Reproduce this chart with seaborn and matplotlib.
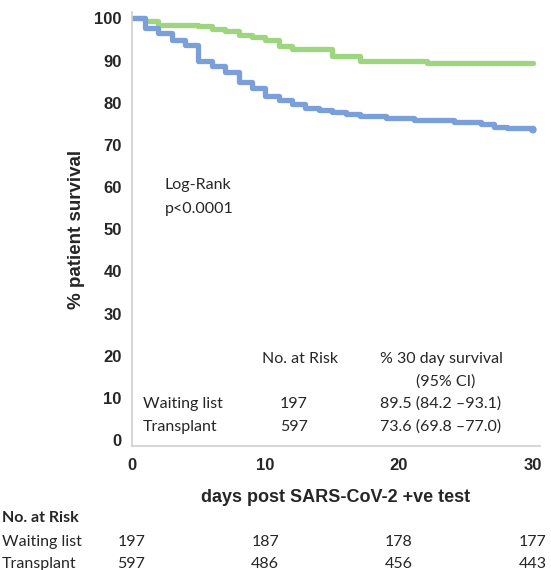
import numpy as np
import pandas as pd
import matplotlib
matplotlib.use("Agg")
import matplotlib.pyplot as plt
import seaborn as sns

# ---- data ----
groups = ["Waiting list", "Transplant"]
days_wl = [0, 1.0, 2.0, 5.0, 6.0, 7.0, 8.0, 9.0, 10.0, 11.0, 12.0, 15.0, 17.1, 22.1, 30.0]
surv_wl = [100, 99.4, 98.5, 98.1, 97.5, 96.9, 96.1, 95.5, 94.9, 93.5, 92.7, 91.1, 90.0, 89.5, 89.5]
days_tx = [0, 1.0, 2.0, 3.0, 4.0, 5.0, 6.0, 7.0, 8.0, 9.0, 10.0, 11.0, 12.0, 13.0, 14.0,
           15.0, 16.0, 17.1, 19.0, 21.1, 24.1, 26.1, 27.1, 28.1, 30.0]
surv_tx = [100, 97.7, 96.5, 94.9, 93.6, 89.8, 88.8, 87.2, 85.0, 83.5, 81.5, 80.7, 79.7, 78.7, 78.3,
           77.7, 77.4, 76.9, 76.3, 75.9, 75.4, 75.0, 74.2, 74.0, 73.6]
x_ticks = [0, 10, 20, 30]
y_ticks = [0, 10, 20, 30, 40, 50, 60, 70, 80, 90, 100]
risk_wl = [197, 187, 178, 177]
risk_tx = [597, 486, 456, 443]
table_n = ["197", "597"]
table_surv = ["89.5 (84.2 \u201393.1)", "73.6 (69.8 \u201377.0)"]
colors = {"Waiting list": "#9dd67e", "Transplant": "#7b9fd8"}

df = pd.concat([
    pd.DataFrame({"day": days_wl, "surv": surv_wl, "group": "Waiting list"}),
    pd.DataFrame({"day": days_tx, "surv": surv_tx, "group": "Transplant"}),
], ignore_index=True)

sns.set_style("white")
body = ["Lato", "DejaVu Sans"]
head = ["Liberation Sans", "DejaVu Sans"]

W, H = 551, 570
fig = plt.figure(figsize=(W / 100, H / 100), dpi=100)
ax = fig.add_axes([131.5 / W, (H - 446) / H, 408 / W, 434 / H])

sns.lineplot(data=df, x="day", y="surv", hue="group", palette=colors,
             drawstyle="steps-post", estimator=None, linewidth=3.8,
             legend=False, ax=ax)
# end marker on the transplant curve
sns.scatterplot(x=[days_tx[-1]], y=[surv_tx[-1]], color=colors["Transplant"],
                s=30, edgecolor="none", ax=ax, zorder=5)

ax.set_xlim(0, 30.5)
ax.set_ylim(-1.4, 101.5)
ax.set_xticks(x_ticks)
ax.set_yticks(y_ticks)
ax.set_xticklabels([str(t) for t in x_ticks], fontfamily=head, fontweight="bold", fontsize=12)
ax.set_yticklabels([str(t) for t in y_ticks], fontfamily=head, fontweight="bold", fontsize=12)
ax.tick_params(axis="both", length=3, width=1, color="#c8c8c8", direction="out")
ax.tick_params(axis="x", pad=6)
ax.tick_params(axis="y", pad=4)
for s in ["top", "right"]:
    ax.spines[s].set_visible(False)
for s in ["left", "bottom"]:
    ax.spines[s].set_color("#cfcfcf")
    ax.spines[s].set_linewidth(1.2)
ax.grid(False)
ax.set_xlabel("days post SARS-CoV-2 +ve test", fontfamily=head, fontweight="bold",
              fontsize=13, labelpad=11)
ax.set_ylabel("% patient survival", fontfamily=head, fontweight="bold", fontsize=13.5,
              labelpad=7)

def px(x, y):
    return x / W, 1 - y / H

fs = 11.5
fig.text(*px(165, 185), "Log-Rank", fontfamily=body, fontsize=fs, va="center")
fig.text(*px(165, 209), "p<0.0001", fontfamily=body, fontsize=fs, va="center")

fig.text(*px(262, 359), "No. at Risk", fontfamily=body, fontsize=fs, va="center")
fig.text(*px(380, 359), "% 30 day survival", fontfamily=body, fontsize=fs, va="center")
fig.text(*px(446, 382), "(95% CI)", fontfamily=body, fontsize=fs, va="center", ha="center")
for i, (g, yy) in enumerate(zip(groups, [404, 427])):
    fig.text(*px(143, yy), g, fontfamily=body, fontsize=fs, va="center")
    fig.text(*px(294, yy), table_n[i], fontfamily=body, fontsize=fs, va="center", ha="center")
    fig.text(*px(380, yy), table_surv[i], fontfamily=body, fontsize=fs, va="center")

# bottom number-at-risk table
fig.text(*px(2, 518), "No. at Risk", fontfamily=body, fontsize=fs, fontweight="bold", va="center")
fig.text(*px(2, 542), groups[0], fontfamily=body, fontsize=fs, va="center")
fig.text(*px(2, 564), groups[1], fontfamily=body, fontsize=fs, va="center")
trans = matplotlib.transforms.blended_transform_factory(ax.transData, fig.transFigure)
for t, a, b in zip(x_ticks, risk_wl, risk_tx):
    ax.text(t, 1 - 542 / H, str(a), transform=trans, fontfamily=body, fontsize=fs,
            va="center", ha="center", clip_on=False)
    ax.text(t, 1 - 564 / H, str(b), transform=trans, fontfamily=body, fontsize=fs,
            va="center", ha="center", clip_on=False)

fig.savefig("out.png", dpi=100)
